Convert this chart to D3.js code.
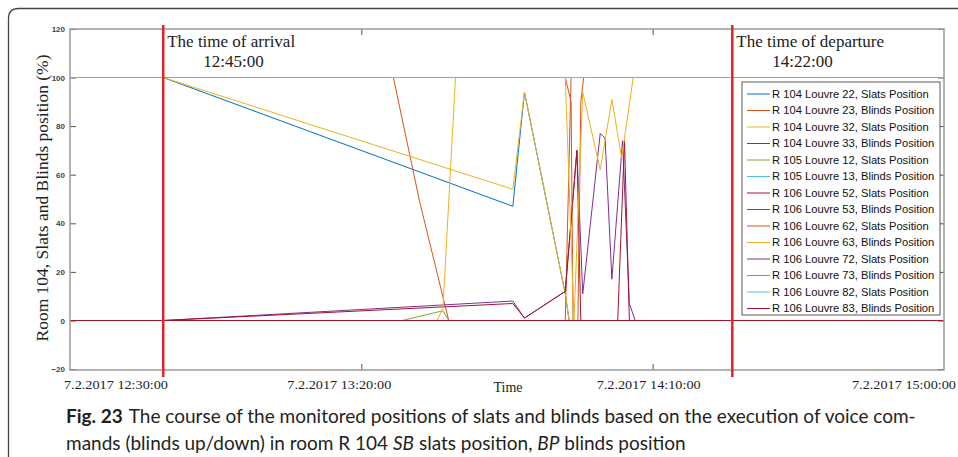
<!DOCTYPE html>
<html>
<head>
<meta charset="utf-8">
<script src="https://cdn.jsdelivr.net/npm/d3@7"></script>
<style>
  html, body { margin: 0; padding: 0; background: #fff; }
  svg { display: block; }
  .serif { font-family: "Liberation Serif", "Times New Roman", serif; fill: #222; }
  .sans { font-family: "Liberation Sans", Arial, sans-serif; fill: #111; }
</style>
</head>
<body>
<div id="chart"></div>
<script>
// ---- data ----
const xTicks = ["12:30:00", "13:20:00", "14:10:00", "15:00:00"];
const xTickLabels = ["7.2.2017 12:30:00", "7.2.2017 13:20:00", "7.2.2017 14:10:00", "7.2.2017 15:00:00"];
const yTicks = [-20, 0, 20, 40, 60, 80, 100, 120];

const seriesNames = [
  "R 104 Louvre 22, Slats Position",
  "R 104 Louvre 23, Blinds Position",
  "R 104 Louvre 32, Slats Position",
  "R 104 Louvre 33, Blinds Position",
  "R 105 Louvre 12, Slats Position",
  "R 105 Louvre 13, Blinds Position",
  "R 106 Louvre 52, Slats Position",
  "R 106 Louvre 53, Blinds Position",
  "R 106 Louvre 62, Slats Position",
  "R 106 Louvre 63, Blinds Position",
  "R 106 Louvre 72, Slats Position",
  "R 106 Louvre 73, Blinds Position",
  "R 106 Louvre 82, Slats Position",
  "R 106 Louvre 83, Blinds Position"
];

// [time, position %]
const r104L22 = [["12:30:00",100],["12:46:00",100],["13:46:00",47],["13:48:00",94],["13:55:00",11],["13:55:40",0],["15:00:00",0]];
const r104L23 = [["12:30:00",100],["13:25:30",100],["13:30:00",49],["13:35:00",0],["13:55:00",0],["13:56:00",100],["15:00:00",100]];
const r104L32 = [["12:30:00",100],["12:46:00",100],["13:46:00",54],["13:48:00",94],["13:55:00",11],["13:55:40",0],["15:00:00",0]];
const r104L33 = [["12:30:00",0],["12:46:00",0],["13:46:00",8],["13:48:00",1],["13:55:00",12],["13:57:00",70],["13:58:00",11],["14:01:00",77],["14:01:50",75],["14:03:00",17],["14:04:50",74],["14:06:00",7],["14:07:00",0],["15:00:00",0]];
const r105L12 = [["12:30:00",0],["13:27:00",0],["13:34:00",4],["13:35:00",0],["15:00:00",0]];
const r105L13 = [["12:30:00",100],["15:00:00",100]];
const r106L52 = [["12:30:00",0],["12:46:00",0],["13:46:00",7],["13:48:00",1],["13:55:00",12],["13:57:00",70],["13:57:40",0],["14:04:00",0],["14:05:10",74],["14:06:00",0],["15:00:00",0]];
const r106L53 = [["12:30:00",0],["15:00:00",0]];
const r106L62 = [["12:30:00",100],["13:55:00",100],["13:56:00",90],["13:56:20",0],["13:57:10",0],["13:57:40",90],["13:58:10",100],["15:00:00",100]];
const r106L63 = [["12:30:00",0],["13:33:00",0],["13:34:00",5],["13:36:10",100],["13:55:00",100],["13:56:30",0],["13:58:00",94],["14:01:00",62],["14:03:00",91],["14:04:40",67],["14:06:40",100],["15:00:00",100]];
const r106L72 = [["12:30:00",0],["15:00:00",0]];
const r106L73 = [["12:30:00",0],["15:00:00",0]];
const r106L82 = [["12:30:00",100],["15:00:00",100]];
const r106L83 = [["12:30:00",0],["15:00:00",0]];

const seriesData = [r104L22, r104L23, r104L32, r104L33, r105L12, r105L13, r106L52,
                    r106L53, r106L62, r106L63, r106L72, r106L73, r106L82, r106L83];

// marker lines
const markerTimes = ["12:46:00", "14:23:40"];
const markerTitles = ["The time of arrival", "The time of departure"];
const markerClock = ["12:45:00", "14:22:00"];

// ---- layout ----
const W = 958, H = 457;
const plot = { left: 70, top: 29, right: 944, bottom: 370 };
// y range nudged so the 0 and 100 lines land on pixel centres (crisp colours)
const yRange = [369.1, 28.9];
const palette = ["#0072BD", "#D95319", "#EDB120", "#7E2F8E", "#77AC30", "#4DBEEE", "#A2142F"];
const labelShift = [-6, -74, -56, -92];   // x-labels sit off their ticks in the original

const parseT = d3.timeParse("%H:%M:%S");

const svg = d3.select("#chart").append("svg")
  .attr("width", W)
  .attr("height", H);

// figure frame
svg.append("path")
  .attr("d", `M8.5,${H + 5} L8.5,18.5 Q8.5,8.5 18.5,8.5 L${W + 5},8.5`)
  .attr("fill", "none")
  .attr("stroke", "#444")
  .attr("stroke-width", 1.3);

const x = d3.scaleTime()
  .domain([parseT(xTicks[0]), parseT(xTicks[xTicks.length - 1])])
  .range([plot.left, plot.right]);

const y = d3.scaleLinear()
  .domain([-20, 120])
  .range(yRange);

svg.append("clipPath").attr("id", "clip")
  .append("rect")
  .attr("x", plot.left).attr("y", plot.top)
  .attr("width", plot.right - plot.left).attr("height", plot.bottom - plot.top);

// axes (inward ticks)
const innerTicks = xTicks.slice(1, -1).map(parseT);

const yl = svg.append("g")
  .attr("transform", `translate(${plot.left},0)`)
  .call(d3.axisLeft(y).tickValues(yTicks).tickSizeInner(-6).tickSizeOuter(0).tickPadding(5));
yl.selectAll("text")
  .style("font-family", "Liberation Sans, Arial, sans-serif")
  .style("font-size", "8px")
  .style("font-weight", "bold")
  .attr("fill", "#444");

const yr = svg.append("g")
  .attr("transform", `translate(${plot.right},0)`)
  .call(d3.axisRight(y).tickValues(yTicks).tickSizeInner(-6).tickSizeOuter(0).tickFormat(""));

const xt = svg.append("g")
  .attr("transform", `translate(0,${plot.top})`)
  .call(d3.axisTop(x).tickValues(innerTicks).tickSizeInner(-6).tickSizeOuter(0).tickFormat(""));

const xb = svg.append("g")
  .attr("transform", `translate(0,${plot.bottom})`)
  .call(d3.axisBottom(x).tickValues(innerTicks).tickSizeInner(-6).tickSizeOuter(0).tickFormat(""));

[yl, yr, xt, xb].forEach(g => {
  g.select(".domain").remove();
  g.selectAll("line").attr("stroke", "#555");
});

// series lines
const line = d3.line()
  .x(d => x(parseT(d[0])))
  .y(d => y(d[1]));

svg.append("g")
  .attr("clip-path", "url(#clip)")
  .selectAll("path")
  .data(seriesData)
  .join("path")
  .attr("d", line)
  .attr("fill", "none")
  .attr("stroke", (d, i) => palette[i % palette.length])
  .attr("stroke-width", 1);

// plot box
svg.append("rect")
  .attr("x", plot.left).attr("y", plot.top)
  .attr("width", plot.right - plot.left).attr("height", plot.bottom - plot.top)
  .attr("fill", "none")
  .attr("stroke", "#9a9a9a")
  .attr("stroke-width", 1.5);

// arrival / departure markers
svg.selectAll(".marker")
  .data(markerTimes)
  .join("line")
  .attr("class", "marker")
  .attr("x1", d => x(parseT(d))).attr("x2", d => x(parseT(d)))
  .attr("y1", plot.top - 4).attr("y2", plot.bottom + 7)
  .attr("stroke", "#e3232c")
  .attr("stroke-width", 2.5);

svg.selectAll(".mtitle")
  .data(markerTimes)
  .join("text")
  .attr("class", "mtitle serif")
  .attr("x", d => x(parseT(d)) + 4)
  .attr("y", 47)
  .style("font-size", "17px")
  .text((d, i) => markerTitles[i]);

svg.selectAll(".mclock")
  .data(markerTimes)
  .join("text")
  .attr("class", "mclock serif")
  .attr("x", d => x(parseT(d)) + 40)
  .attr("y", 67)
  .style("font-size", "17px")
  .text((d, i) => markerClock[i]);

// legend
const legend = svg.append("g").attr("transform", "translate(742,82)");
legend.append("rect")
  .attr("width", 198).attr("height", 233)
  .attr("fill", "#fff")
  .attr("stroke", "#333")
  .attr("stroke-width", 0.8);

const rows = legend.selectAll(".row")
  .data(seriesNames)
  .join("g")
  .attr("class", "row")
  .attr("transform", (d, i) => `translate(0,${12 + i * 16.5})`);
rows.append("line")
  .attr("x1", 5).attr("x2", 28)
  .attr("stroke", (d, i) => palette[i % palette.length])
  .attr("stroke-width", 1);
rows.append("text")
  .attr("class", "sans")
  .attr("x", 30)
  .attr("dy", "0.35em")
  .style("font-size", "11.2px")
  .text(d => d);

// x tick labels
svg.selectAll(".xlab")
  .data(xTicks)
  .join("text")
  .attr("class", "xlab serif")
  .attr("x", (d, i) => x(parseT(d)) + labelShift[i])
  .attr("y", 389)
  .style("font-size", "13px")
  .attr("textLength", 104)
  .attr("lengthAdjust", "spacingAndGlyphs")
  .text((d, i) => xTickLabels[i]);

// axis titles
svg.append("text")
  .attr("class", "serif")
  .attr("x", 508).attr("y", 392)
  .attr("text-anchor", "middle")
  .style("font-size", "14px")
  .text("Time");

svg.append("text")
  .attr("class", "serif")
  .attr("transform", "translate(48,198) rotate(-90)")
  .attr("text-anchor", "middle")
  .style("font-size", "17px")
  .attr("textLength", 287)
  .attr("lengthAdjust", "spacingAndGlyphs")
  .text("Room 104, Slats and Blinds position (%)");

// caption
const cap = svg.append("g")
  .style("font-family", "Lato, 'Open Sans', sans-serif")
  .style("font-size", "19px")
  .attr("fill", "#231f20");
const c1 = cap.append("text").attr("x", 66).attr("y", 423);
c1.append("tspan").style("font-weight", "bold").text("Fig. 23");
c1.append("tspan").attr("dx", 6).text("The course of the monitored positions of slats and blinds based on the execution of voice com-");
const c2 = cap.append("text").attr("x", 66).attr("y", 450);
c2.append("tspan").text("mands (blinds up/down) in room R 104 ");
c2.append("tspan").style("font-style", "italic").text("SB");
c2.append("tspan").text(" slats position, ");
c2.append("tspan").style("font-style", "italic").text("BP");
c2.append("tspan").text(" blinds position");
</script>
</body>
</html>
